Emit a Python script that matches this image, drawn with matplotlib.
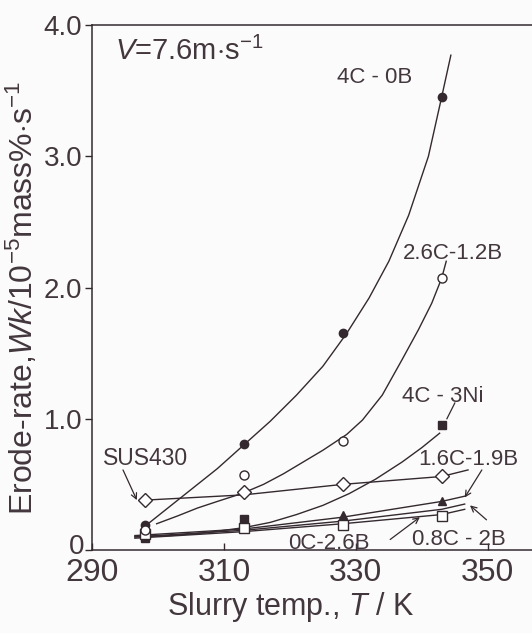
import numpy as np
import matplotlib
matplotlib.use("Agg")
import matplotlib.pyplot as plt
from matplotlib.transforms import ScaledTranslation

plt.rcParams['font.family'] = ['Liberation Sans', 'DejaVu Sans']
plt.rcParams['mathtext.fontset'] = 'custom'
plt.rcParams['mathtext.rm'] = 'Liberation Sans'
plt.rcParams['mathtext.it'] = 'Liberation Sans:italic'

INK = '#33292f'
TXT = '#43373e'

# measured temperatures (K)
temps = [298, 313, 328, 343]

# marker values, 10^-5 mass%/s
v_4c0b = [0.19, 0.81, 1.65, 3.45]
v_26c12b = [0.15, 0.57, 0.83, 2.07]
v_4c3ni = [0.09, 0.24, np.nan, 0.95]
v_16c19b = [0.12, 0.17, 0.27, 0.37]
v_08c2b = [0.12, 0.17, 0.19, 0.26]
v_sus430 = [0.38, 0.44, 0.50, 0.565]

# hand drawn trend curves
c_4c0b_t = [297.5, 300, 303, 306, 309, 313, 317, 321, 325, 328.6, 332, 335, 338, 341, 343, 344.4]
c_4c0b_v = [0.16, 0.26, 0.38, 0.50, 0.62, 0.80, 0.98, 1.18, 1.40, 1.65, 1.92, 2.20, 2.55, 3.00, 3.45, 3.77]
c_26c_t = [299.8, 303, 306, 309, 312.7, 316, 319, 322, 325, 328.6, 331, 334, 337, 339.5, 341.5, 343, 343.7]
c_26c_v = [0.20, 0.26, 0.32, 0.37, 0.43, 0.50, 0.58, 0.67, 0.76, 0.88, 0.99, 1.18, 1.45, 1.68, 1.88, 2.07, 2.20]
c_4c3ni_t = [296.5, 302, 307, 313, 317, 321, 325, 329, 333, 337, 340, 342.7]
c_4c3ni_v = [0.10, 0.11, 0.13, 0.17, 0.21, 0.27, 0.34, 0.43, 0.54, 0.67, 0.78, 0.89]
c_sus_t = [298, 313, 328, 343, 347]
c_sus_v = [0.38, 0.42, 0.50, 0.56, 0.61]
c_16c_t = [296.5, 313, 328, 343, 346.5]
c_16c_v = [0.11, 0.16, 0.25, 0.37, 0.41]
c_0c_t = [296.5, 313, 328, 343, 346.5]
c_0c_v = [0.10, 0.15, 0.22, 0.31, 0.35]
c_08c_t = [296.5, 313, 328, 343, 346.5]
c_08c_v = [0.09, 0.14, 0.20, 0.27, 0.31]

fig = plt.figure(figsize=(5.32, 6.33), dpi=100)
fig.patch.set_facecolor('#fcfbfb')
ax = fig.add_axes([92/532, 83/633, 440/532, 525/633])
ax.set_facecolor('#fcfbfb')

lw = 1.0
for t, v in [(c_4c0b_t, c_4c0b_v), (c_26c_t, c_26c_v), (c_4c3ni_t, c_4c3ni_v),
             (c_sus_t, c_sus_v), (c_16c_t, c_16c_v), (c_0c_t, c_0c_v), (c_08c_t, c_08c_v)]:
    ax.plot(t, v, color=INK, lw=lw, zorder=2)

ax.plot(temps, v_16c19b, ls='none', marker='^', ms=6, mfc=INK, mec=INK, zorder=3)
ax.plot(temps, v_4c3ni, ls='none', marker='s', ms=5.5, mfc=INK, mec=INK, zorder=3)
ax.plot(temps, v_08c2b, ls='none', marker='s', ms=6.5, mfc='white', mec=INK, mew=1.0, zorder=4)
ax.plot(temps, v_4c0b, ls='none', marker='o', ms=6, mfc=INK, mec=INK, zorder=4)
ax.plot(temps, v_26c12b, ls='none', marker='o', ms=6.5, mfc='white', mec=INK, mew=1.0, zorder=5)
ax.plot(temps, v_sus430, ls='none', marker='D', ms=7.5, mfc='white', mec=INK, mew=1.0, zorder=5)

ax.set_xlim(290, 356.7)
ax.set_ylim(0, 4.0)
ax.set_xticks([290, 310, 330, 350])
ax.set_xticklabels(['290', '310', '330', '350'])
ax.set_yticks([0, 1, 2, 3, 4])
ax.set_yticklabels(['0', '1.0', '2.0', '3.0', '4.0'])
ax.tick_params(axis='x', direction='in', length=5, width=1, colors=INK,
               labelsize=23, labelcolor=TXT, pad=6)
ax.tick_params(axis='y', direction='out', length=5, width=1, colors=INK,
               labelsize=20, labelcolor=TXT, pad=2)
zero = ax.get_yticklabels()[0]
zero.set_transform(zero.get_transform() + ScaledTranslation(0.02, 0.06, fig.dpi_scale_trans))
for s in ['left', 'bottom', 'top']:
    ax.spines[s].set_color(INK)
    ax.spines[s].set_linewidth(1.1)
ax.spines['right'].set_visible(False)

ax.set_xlabel(r'Slurry temp., $T$ / K', fontsize=22, color=TXT)
ax.xaxis.set_label_coords(0.452, -0.076)
ax.set_ylabel(r'Erode-rate,$Wk$/10$^{-5}$mass%$\cdot$s$^{-1}$', fontsize=23, color=TXT)
ax.yaxis.set_label_coords(-0.118, 0.48)

ax.text(293.5, 3.73, r'$V$=7.6m$\cdot$s$^{-1}$', fontsize=21, color=TXT)

fs = 16
ax.text(327.1, 3.56, '4C - 0B', fontsize=fs, color=TXT)
ax.text(337.1, 2.22, '2.6C-1.2B', fontsize=fs, color=TXT)
ax.text(337.0, 1.13, '4C - 3Ni', fontsize=fs, color=TXT)
ax.text(339.4, 0.65, '1.6C-1.9B', fontsize=fs, color=TXT)
ax.text(291.7, 0.65, 'SUS430', fontsize=16.5, color=TXT)
ax.text(319.7, 0.01, '0C-2.6B', fontsize=fs, color=TXT)
ax.text(338.5, 0.04, '0.8C - 2B', fontsize=fs, color=TXT)

ax.plot([345.0, 343.8], [1.12, 1.0], color=INK, lw=0.9)
arr = dict(arrowstyle='->', color=INK, lw=0.9, shrinkA=0, shrinkB=0)
ax.annotate('', xy=(346.5, 0.40), xytext=(349.1, 0.61), arrowprops=arr)
ax.annotate('', xy=(296.8, 0.38), xytext=(294.7, 0.61), arrowprops=arr)
ax.annotate('', xy=(339.7, 0.25), xytext=(335.2, 0.08), arrowprops=arr)
ax.annotate('', xy=(347.3, 0.34), xytext=(349.8, 0.23), arrowprops=arr)

fig.savefig('out.png', dpi=100, facecolor=fig.get_facecolor())
